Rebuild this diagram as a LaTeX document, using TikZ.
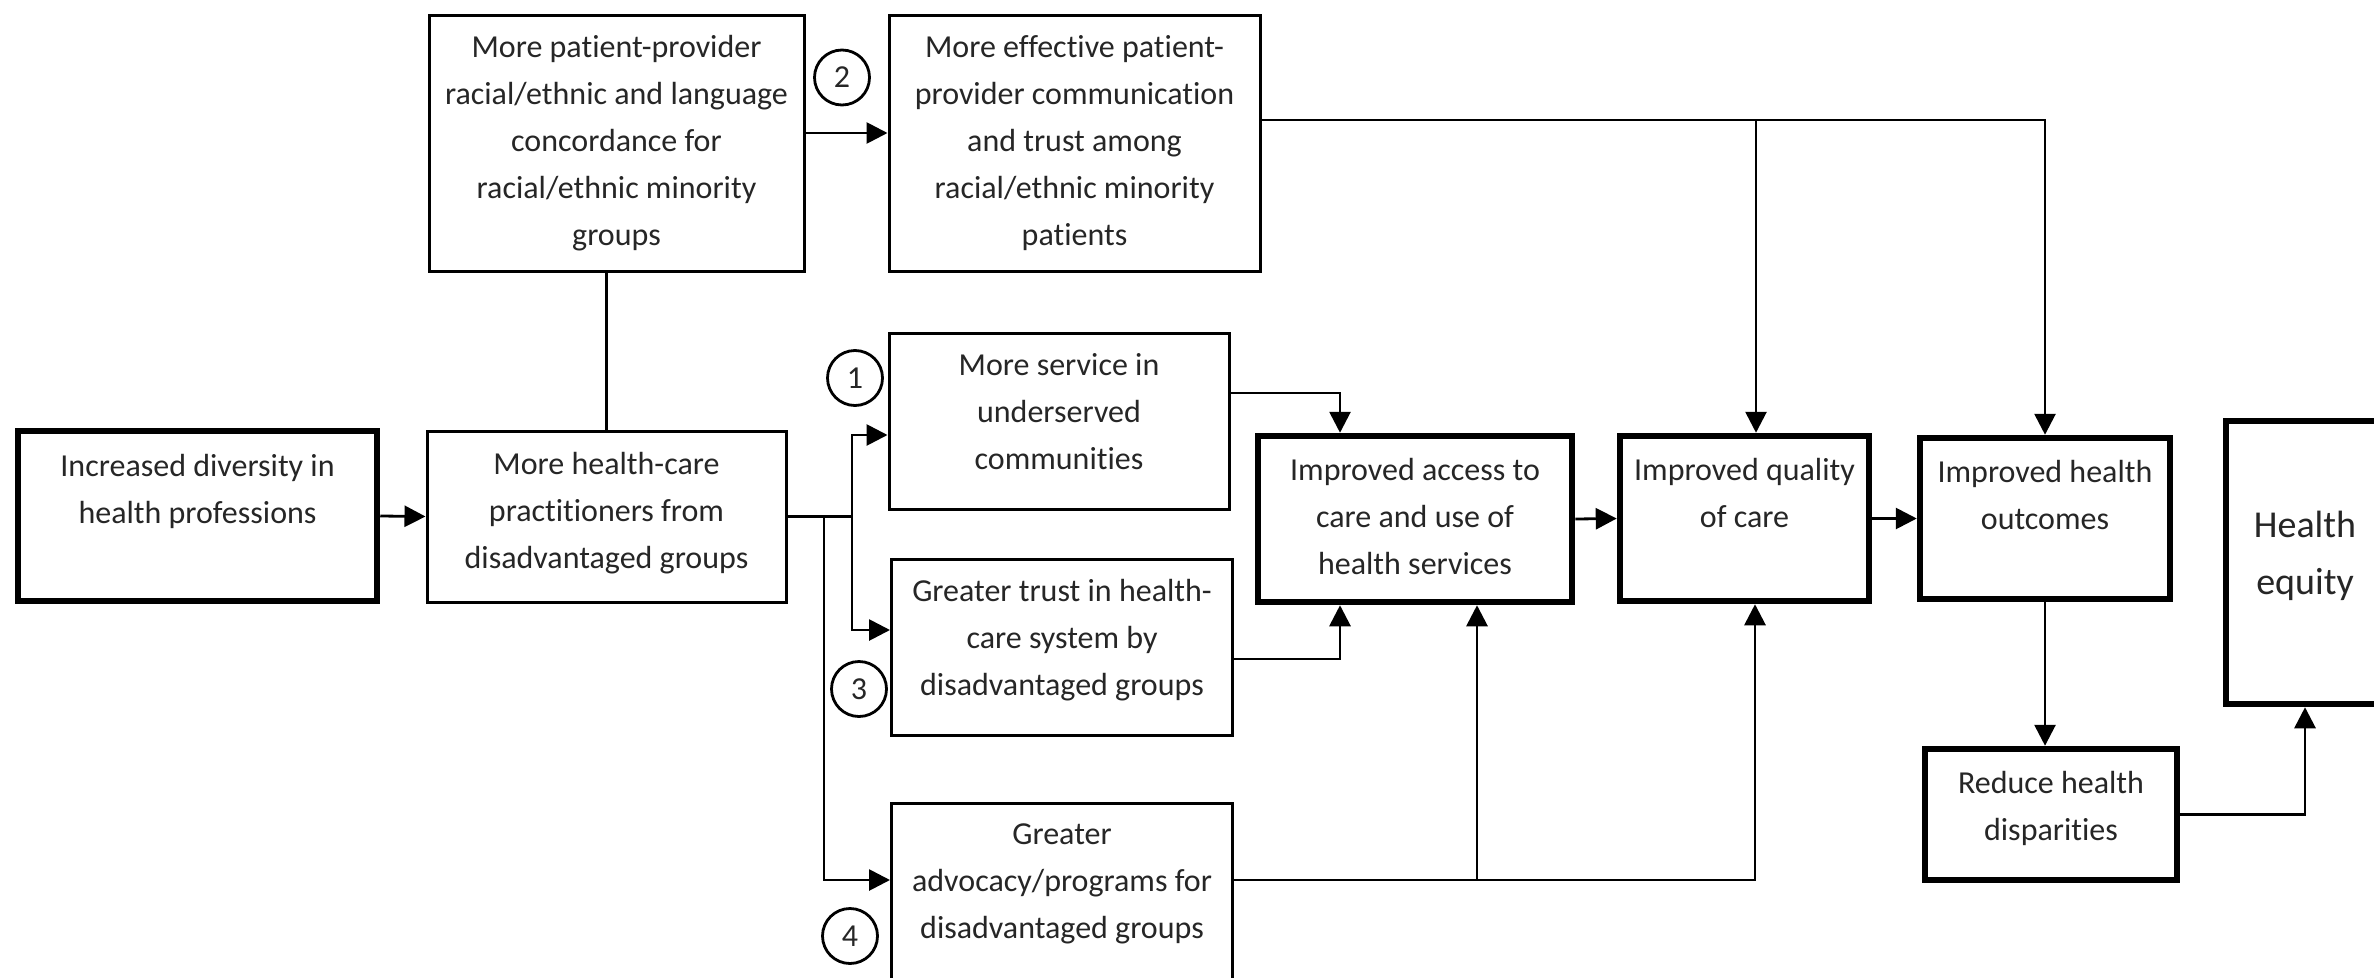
\documentclass[tikz,border=0pt]{standalone}
\usepackage{fontspec}
\setmainfont{Carlito}[Ligatures=NoCommon]
\usetikzlibrary{arrows.meta,calc}
\begin{document}
\begin{tikzpicture}[x=1pt,y=-1pt,
  thinbox/.style={draw=black, line width=3pt, inner sep=0pt, rectangle},
  thickbox/.style={draw=black, line width=6.5pt, inner sep=0pt, rectangle},
  txt/.style={align=center, inner sep=0pt, text=black!85, font=\fontsize{32}{47}\selectfont, anchor=north},
  bigtxt/.style={align=center, inner sep=0pt, text=black!85, font=\fontsize{38}{57}\selectfont, anchor=north},
  ln/.style={draw=black, line width=2.8pt},
  arr/.style={ln, -{Triangle[length=21pt,width=21pt]}},
  num/.style={circle, draw=black, line width=2.8pt, minimum size=55pt, inner sep=0pt, font=\fontsize{32}{32}\selectfont, text=black!85}
]
\path[use as bounding box, fill=white] (0,0) rectangle (2374,977);

% boxes
\node[thickbox, minimum width=359pt, minimum height=170pt] (A) at (197.5,516) {};
\node[thinbox,  minimum width=359pt, minimum height=171pt] (B) at (606.5,516.5) {};
\node[thinbox,  minimum width=375pt, minimum height=256pt] (C) at (616.5,143) {};
\node[thinbox,  minimum width=371pt, minimum height=256pt] (D) at (1074.5,143) {};
\node[thinbox,  minimum width=340pt, minimum height=176pt] (E) at (1059,421) {};
\node[thinbox,  minimum width=341pt, minimum height=176pt] (F) at (1062,647) {};
\node[thinbox,  minimum width=341pt, minimum height=176pt] (G) at (1062,891) {};
\node[thickbox, minimum width=314pt, minimum height=166pt] (H) at (1415,519) {};
\node[thickbox, minimum width=249pt, minimum height=165pt] (I) at (1744.5,518.5) {};
\node[thickbox, minimum width=250pt, minimum height=161pt] (J) at (2045,518.5) {};
\node[thickbox, minimum width=158pt, minimum height=283pt] (K) at (2305,562.5) {};
\node[thickbox, minimum width=252pt, minimum height=131pt] (L) at (2051,814.5) {};

% texts
\node[txt] (At) at ([yshift=-26pt]A.north) {Increased diversity in\\health professions};
\node[txt] (Bt) at ([yshift=-23pt]B.north) {More health-care\\practitioners from\\disadvantaged groups};
\node[txt] (Ct) at ([yshift=-22pt]C.north) {More patient-provider\\racial/ethnic and language\\concordance for\\racial/ethnic minority\\groups};
\node[txt] (Dt) at ([yshift=-22pt]D.north) {More effective patient-\\provider communication\\and trust among\\racial/ethnic minority\\patients};
\node[txt] (Et) at ([yshift=-22pt]E.north) {More service in\\underserved\\communities};
\node[txt] (Ft) at ([yshift=-22pt]F.north) {Greater trust in health-\\care system by\\disadvantaged groups};
\node[txt] (Gt) at ([yshift=-22pt]G.north) {Greater\\advocacy/programs for\\disadvantaged groups};
\node[txt] (Ht) at ([yshift=-25pt]H.north) {Improved access to\\care and use of\\health services};
\node[txt] (It) at ([yshift=-25pt]I.north) {Improved quality\\of care};
\node[txt] (Jt) at ([yshift=-25pt]J.north) {Improved health\\outcomes};
\node[bigtxt] (Kt) at ([yshift=-93pt]K.north) {Health\\equity};
\node[txt] (Lt) at ([yshift=-25pt]L.north) {Reduce health\\disparities};

% numbered circles
\node[num] (n2) at (842,77.5) {2};
\node[num] (n1) at (855,378) {1};
\node[num] (n3) at (859,689) {3};
\node[num] (n4) at (850,936) {4};

% junction coordinates
\coordinate (ycd) at (0,133);
\coordinate (dq) at (1756,120);
\coordinate (eh) at (1340,393);
\coordinate (fh) at (1340,659);
\coordinate (gi) at (1755,880);
\coordinate (gh) at (1477,880);
\coordinate (t1) at (852,435);
\coordinate (t3) at (852,630);
\coordinate (t4) at (824,880);

% connectors
\draw[arr] (A.east) -- (B.west);
\draw[ln] (B.north) -- (B.north |- C.south);
\draw[arr] (C.east |- ycd) -- (D.west |- ycd);
\draw[arr] (D.east |- dq) -| (J.north);
\draw[arr] (dq) -- (dq |- I.north);
\draw[arr] (B.east) -| (t1) -- (t1 -| E.west);
\draw[arr] (B.east) -| (t3) -- (t3 -| F.west);
\draw[arr] (B.east) -| (t4) -- (t4 -| G.west);
\draw[arr] (E.east |- eh) -| (eh |- H.north);
\draw[arr] (F.east |- fh) -| (fh |- H.south);
\draw[arr] (G.east |- gi) -| (gi |- I.south);
\draw[arr] (gh) -- (gh |- H.south);
\draw[arr] (H.east) -- (I.west);
\draw[arr] (I.east) -- (J.west);
\draw[arr] (J.south) -- (J.south |- L.north);
\draw[arr] (L.east) -| (K.south);
\end{tikzpicture}
\end{document}
